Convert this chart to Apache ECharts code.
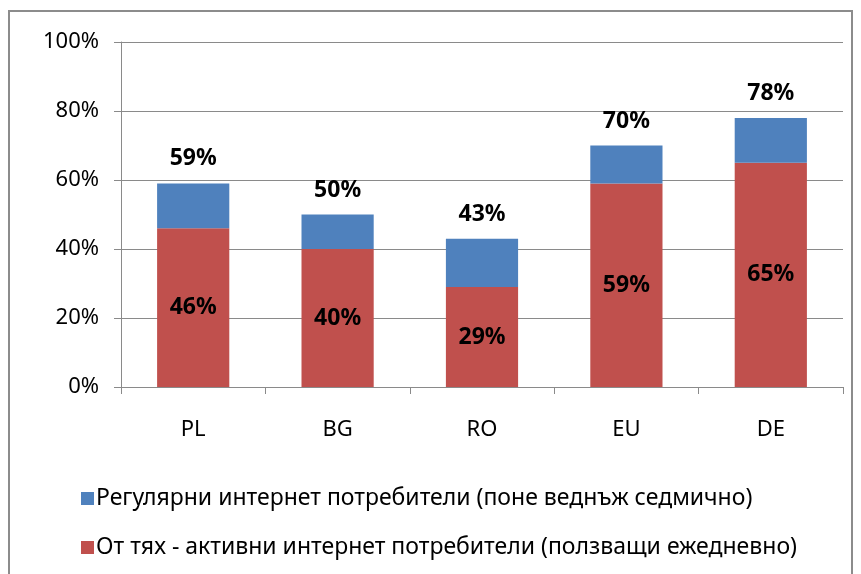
<!DOCTYPE html>
<html>
<head>
<meta charset="utf-8">
<script src="https://cdn.jsdelivr.net/npm/echarts@6/dist/echarts.min.js"></script>
<style>
  html, body { margin: 0; padding: 0; background: #fff; }
  #frame { position: absolute; left: 8px; top: 10px; width: 845px; height: 580px; border: 2px solid #8c8c8c; box-sizing: border-box; }
  #chart { position: absolute; left: 0; top: 0; width: 861px; height: 574px; }
</style>
</head>
<body>
<div id="frame"></div>
<div id="chart"></div>
<script>
"use strict";

// ── Данни ──────────────────────────────────────────────────────────────
const categories = ["PL", "BG", "RO", "EU", "DE"];
const dailyUsers   = [46, 40, 29, 59, 65];   // активни (ежедневно)
const regularUsers = [59, 50, 43, 70, 78];   // регулярни (общо)
const yTicks = [0, 20, 40, 60, 80, 100];

const NAME_REG   = "Регулярни интернет потребители (поне веднъж седмично)";
const NAME_DAILY = "От тях - активни интернет потребители (ползващи ежедневно)";

const FONT = "'Noto Sans', sans-serif";
const GRID_COLOR = "#8a8a8a";

// разликата, за да се подредят сегментите
const regularRest = regularUsers.map((v, i) => v - dailyUsers[i]);

const chart = echarts.init(document.getElementById("chart"), null, { renderer: "canvas" });

chart.setOption({
  animation: false,
  grid: { left: 121, right: 18, top: 42, bottom: 187 },
  legend: {
    data: [NAME_REG, NAME_DAILY],
    orient: "vertical",
    left: 76, top: 482,
    itemWidth: 13, itemHeight: 13, itemGap: 26,
    icon: "rect",
    textStyle: { fontFamily: FONT, fontSize: 23, color: "#000", padding: [0, 0, 0, -3] },
  },
  xAxis: {
    type: "category",
    data: categories,
    axisLine: { lineStyle: { color: GRID_COLOR, width: 1 } },
    axisTick: { show: true, alignWithLabel: false, length: 7, lineStyle: { color: GRID_COLOR } },
    axisLabel: { fontFamily: FONT, fontSize: 22, color: "#000", margin: 32 },
  },
  yAxis: {
    type: "value",
    min: yTicks[0], max: yTicks[yTicks.length - 1], interval: 20,
    axisLine: { show: true, lineStyle: { color: GRID_COLOR, width: 1 } },
    axisTick: { show: true, length: 7, lineStyle: { color: GRID_COLOR } },
    splitLine: { lineStyle: { color: GRID_COLOR, width: 1 } },
    axisLabel: { fontFamily: FONT, fontSize: 22, color: "#000", margin: 22, formatter: v => v + "%" },
  },
  series: [
    {
      name: NAME_DAILY,
      type: "bar",
      stack: "total",
      barWidth: "50%",
      data: dailyUsers,
      itemStyle: { color: "#c0504d" },
      label: {
        show: true, position: "inside",
        fontFamily: FONT, fontSize: 23, fontWeight: "bold", color: "#000",
        formatter: p => p.value + "%",
      },
    },
    {
      name: NAME_REG,
      type: "bar",
      stack: "total",
      data: regularRest,
      itemStyle: { color: "#4f81bd" },
      label: {
        show: true, position: "top", distance: 13,
        fontFamily: FONT, fontSize: 23, fontWeight: "bold", color: "#000",
        formatter: p => regularUsers[p.dataIndex] + "%",
      },
    },
  ],
});
</script>
</body>
</html>
